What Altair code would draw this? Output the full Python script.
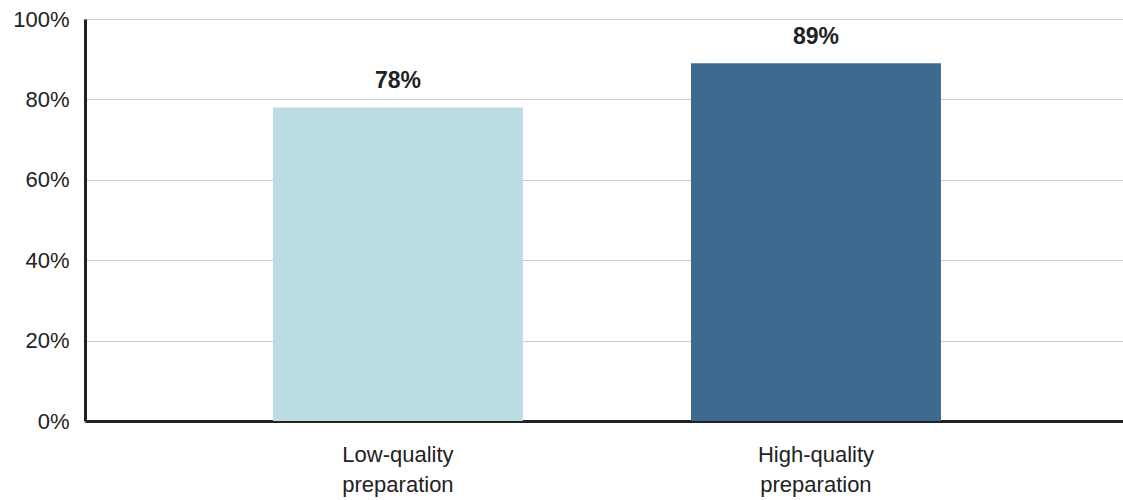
import altair as alt
import pandas as pd

categories = ["Low-quality preparation", "High-quality preparation"]
values = [0.78, 0.89]
colors = ["#BCDCE4", "#3E6A8F"]

df = pd.DataFrame({"cat": categories, "val": values, "color": colors})

FONT = "Liberation Sans"

x = alt.X("cat:N", sort=categories, title=None,
          scale=alt.Scale(paddingInner=0.402, paddingOuter=0.4426, align=0.508),
          axis=alt.Axis(labelAngle=0, labelExpr="split(datum.label, ' ')",
                        labelFontSize=22, labelFont=FONT, labelColor="#222",
                        labelLineHeight=30, labelPadding=23, ticks=False,
                        domainColor="#222", domainWidth=3, grid=False))
y = alt.Y("val:Q", title=None,
          scale=alt.Scale(domain=[0, 1]),
          axis=alt.Axis(format="%", values=[0, 0.2, 0.4, 0.6, 0.8, 1.0],
                        labelFontSize=22, labelFont=FONT, labelColor="#222",
                        labelPadding=16, ticks=False, domainColor="#222",
                        domainWidth=3, gridColor="#cccccc", gridWidth=1))

bars = alt.Chart(df).mark_bar().encode(
    x=x, y=y, color=alt.Color("color:N", scale=None))

text = alt.Chart(df).mark_text(baseline="alphabetic", dy=-19, fontSize=23,
                               fontWeight="bold", font=FONT, color="#222").encode(
    x=alt.X("cat:N", sort=categories), y="val:Q",
    text=alt.Text("val:Q", format=".0%"))

chart = (bars + text).properties(
    width=1038, height=402,
    autosize=alt.AutoSizeParams(type="none"),
    padding={"left": 85, "top": 19, "right": 0, "bottom": 79},
).configure_view(stroke=None)

chart.save("out.html", embed_options={"renderer": "svg", "actions": False})
